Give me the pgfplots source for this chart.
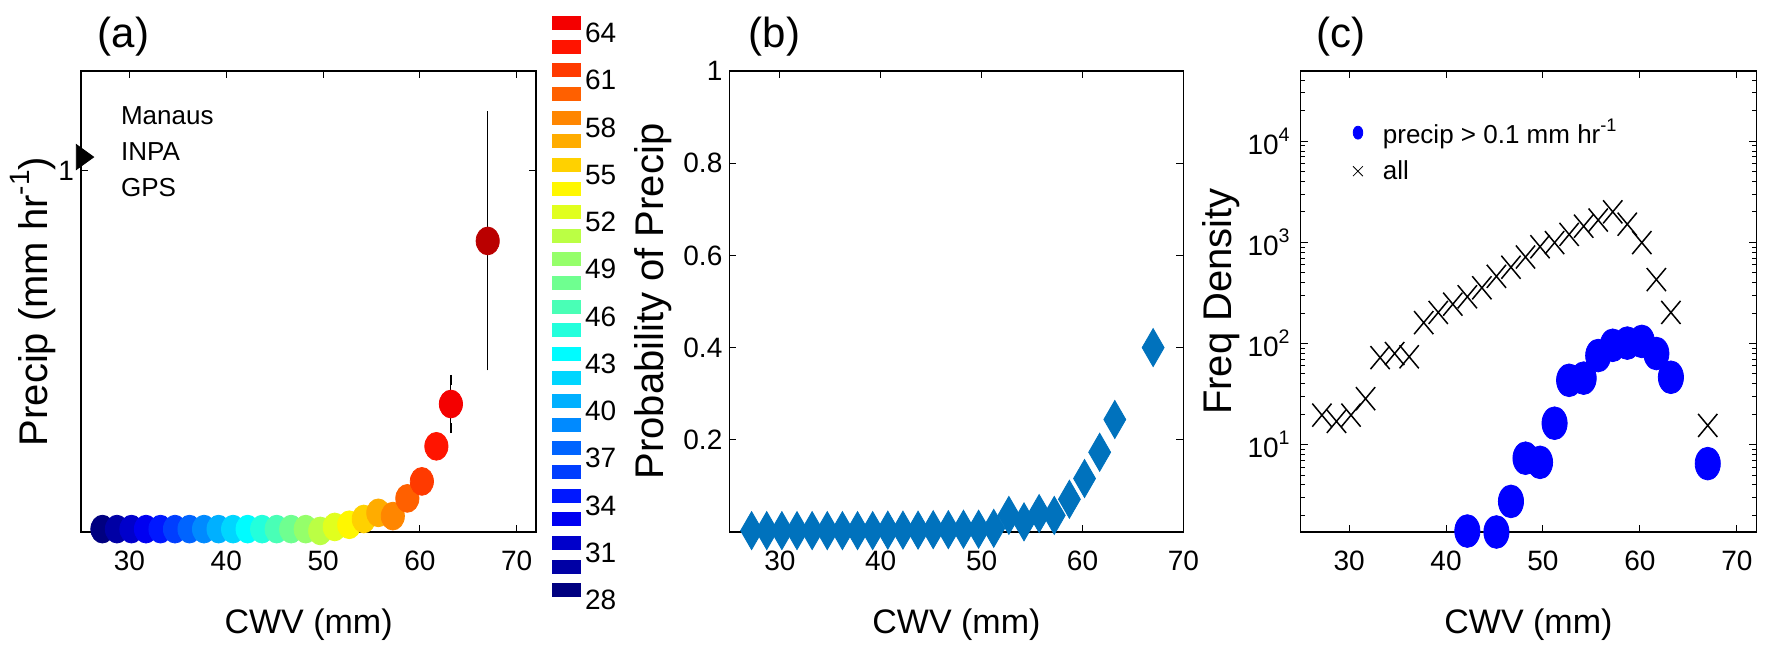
\documentclass[border=0pt]{standalone}
\usepackage{fontspec}
\setmainfont{Liberation Sans}
\usepackage{graphicx}
\usepackage{pgfplots}
\pgfplotsset{compat=1.18}
\newcommand\sups[1]{\raisebox{0.45em}{\scalebox{0.7}{#1}}}
\definecolor{mblue}{RGB}{0,114,189}

\tikzset{ptitle/.style={anchor=west, font=\fontsize{21}{24}\selectfont}}
\pgfplotsset{
  colormap={cwvjet}{rgb=(0,0,0.5) rgb=(0,0,1) rgb=(0,0.5,1) rgb=(0,1,1) rgb=(0.5,1,0.5)
    rgb=(1,1,0) rgb=(1,0.5,0) rgb=(1,0,0) rgb=(0.7,0,0)},
  panel/.style={
    scale only axis, anchor=north west, height=230.5pt,
    clip=false,
    axis line style={line width=0.7pt},
    every tick/.style={black, line width=0.5pt},
    major tick length=3.5pt, minor tick length=2pt,
    tick align=inside,
    /pgf/number format/assume math mode=true,
    ticklabel style={font=\fontsize{14}{16}\selectfont},
    xticklabel style={yshift=-6pt},
    label style={font=\fontsize{17}{20}\selectfont},
    xlabel style={at={(axis description cs:0.5,-0.2)}, anchor=center},
    ylabel style={font=\fontsize{20}{22}\selectfont},
    xtick={30,40,50,60,70},
    xlabel={CWV (mm)},
  },
}

\begin{document}
\begin{tikzpicture}
\useasboundingbox (0,0) rectangle (883.5pt,322pt);

% (a) precip vs CWV, coloured by CWV bin
\begin{axis}[panel, at={(40.55pt,286.5pt)}, width=227.5pt,
  xmin=25, xmax=72, ymin=0, ymax=1.275,
  ytick={1}, yticklabels={1},
  ylabel={Precip (mm hr\sups{-1})},
  ylabel style={at={(axis description cs:-0.105,0.5)}, anchor=center},
  colormap name=cwvjet, point meta min=27.2, point meta max=67.5]
\addplot[black, only marks, mark=none, forget plot,
  error bars/.cd, y dir=both, y explicit,
  error bar style={black, line width=0.5pt},
  error mark=-,
  error mark options={black, mark size=2.4pt, line width=0.6pt}]
  coordinates {(63.2,0.354) +- (0,0.067) (67.0,0.805) +- (0,0.345)};
\addplot[scatter, only marks, mark=*, mark size=5.8pt, point meta=x,
  scatter/use mapped color={draw=mapped color, fill=mapped color},
  mark options={yscale=1.2}] coordinates {
  (27.2,0.008) (28.7,0.008) (30.2,0.008) (31.7,0.008) (33.2,0.008)
  (34.7,0.008) (36.2,0.008) (37.7,0.008) (39.2,0.008) (40.7,0.008)
  (42.2,0.008) (43.7,0.008) (45.2,0.008) (46.7,0.008) (48.2,0.008)
  (49.7,0.003) (51.2,0.014) (52.7,0.020) (54.2,0.036) (55.7,0.053)
  (57.2,0.044) (58.7,0.093) (60.2,0.140) (61.7,0.237) (63.2,0.354)
  (67.0,0.805)};
\addplot[only marks, mark=triangle*, mark size=5.8pt, black,
  mark options={rotate=-90, xscale=1.25}] coordinates {(25.1,1.037)};
\node[anchor=north west, align=left, inner sep=0pt, font=\fontsize{13}{18}\selectfont]
  at (axis description cs:0.087,0.924) {Manaus\\INPA\\GPS};
\node[ptitle] at (axis description cs:0.021,1.074) {(a)};
\end{axis}

% colour key of the CWV bins
\begin{axis}[at={(276pt,314.15pt)}, anchor=north west, scale only axis,
  width=14pt, height=292.95pt, clip=false,
  xmin=0, xmax=1, ymin=27.9, ymax=65.1,
  axis line style={draw=none}, xtick=\empty,
  ytick={28,31,...,64}, yticklabel pos=right, major tick length=0pt,
  /pgf/number format/assume math mode=true,
  yticklabel style={font=\fontsize{14}{16}\selectfont, xshift=-1pt},
  colormap name=cwvjet, point meta min=27.2, point meta max=67.5]
\addplot[scatter, only marks, mark=square*, mark size=3.25pt, point meta=explicit,
  scatter/use mapped color={draw=mapped color, fill=mapped color},
  mark options={xscale=2.15}] coordinates {
  (0.5,28.63) [27.2] (0.5,30.13) [28.7] (0.5,31.63) [30.2] (0.5,33.13) [31.7]
  (0.5,34.63) [33.2] (0.5,36.13) [34.7] (0.5,37.63) [36.2] (0.5,39.13) [37.7]
  (0.5,40.63) [39.2] (0.5,42.13) [40.7] (0.5,43.63) [42.2] (0.5,45.13) [43.7]
  (0.5,46.63) [45.2] (0.5,48.13) [46.7] (0.5,49.63) [48.2] (0.5,51.13) [49.7]
  (0.5,52.63) [51.2] (0.5,54.13) [52.7] (0.5,55.63) [54.2] (0.5,57.13) [55.7]
  (0.5,58.63) [57.2] (0.5,60.13) [58.7] (0.5,61.63) [60.2] (0.5,63.13) [61.7]
  (0.5,64.63) [63.2]};
\end{axis}

% (b) probability of precip
\begin{axis}[panel, at={(364.7pt,286.5pt)}, width=227pt,
  xmin=25, xmax=70, ymin=0, ymax=1,
  ytick={0.2,0.4,0.6,0.8,1},
  ylabel={Probability of Precip},
  ylabel style={at={(axis description cs:-0.167,0.5)}, anchor=center}]
\addplot[only marks, mark=diamond*, mark size=9.5pt, color=mblue,
  mark options={xscale=0.77}] coordinates {
  (27.2,0.003) (28.7,0.003) (30.2,0.003) (31.7,0.003) (33.2,0.003)
  (34.7,0.003) (36.2,0.003) (37.7,0.003) (39.2,0.003) (40.7,0.004)
  (42.2,0.004) (43.7,0.004) (45.2,0.005) (46.7,0.005) (48.2,0.006)
  (49.7,0.006) (51.2,0.008) (52.7,0.036) (54.2,0.022) (55.7,0.040)
  (57.2,0.036) (58.7,0.071) (60.2,0.116) (61.7,0.173) (63.2,0.244)
  (67.0,0.400)};
\node[ptitle] at (axis description cs:0.027,1.074) {(b)};
\end{axis}

% (c) frequency density
\begin{axis}[panel, at={(650.3pt,286.5pt)}, width=227.8pt,
  xmin=25, xmax=72, ymode=log, ymin=1.37, ymax=49500,
  ytick={10,100,1000,10000},
  yticklabels={10\sups{1},10\sups{2},10\sups{3},10\sups{4}},
  minor ytick={2,3,4,5,6,7,8,9,20,30,40,50,60,70,80,90,200,300,400,500,600,700,800,900,
    2000,3000,4000,5000,6000,7000,8000,9000,20000,30000,40000},
  yticklabel style={xshift=-2pt},
  ylabel={Freq Density},
  ylabel style={at={(axis description cs:-0.175,0.5)}, anchor=center},
  legend style={draw=none, fill=none, at={(axis description cs:0.101,0.914)},
    anchor=north west, font=\fontsize{13}{15}\selectfont, row sep=3pt,
    /tikz/every odd column/.append style={column sep=8pt}},
  legend cell align=left]
\addlegendimage{only marks, mark=*, blue, mark size=2.4pt, mark options={yscale=1.35}}
\addlegendentry{precip > 0.1 mm hr\sups{-1}}
\addlegendimage{only marks, mark=x, black, mark size=3.5pt}
\addlegendentry{all}
\addplot[only marks, mark=x, black, mark size=6.8pt, line width=0.75pt,
  mark options={yscale=1.2}, forget plot]
  coordinates {
  (27.2,19.6) (28.7,17.0) (30.2,19.6) (31.7,28.5) (33.2,72.6)
  (34.7,79.7) (36.2,74.0) (37.7,161) (39.2,203) (40.7,245)
  (42.2,290) (43.7,356) (45.2,462) (46.7,568) (48.2,717)
  (49.7,906) (51.2,995) (52.7,1199) (54.2,1446) (55.7,1663)
  (57.2,2005) (58.7,1514) (60.2,995) (61.7,429) (63.2,203)
  (67.0,15.5)};
\addplot[only marks, mark=*, blue, mark size=6.3pt, mark options={yscale=1.3}, forget plot]
  coordinates {
  (42.2,1.40) (45.2,1.37) (46.7,2.75) (48.2,7.35) (49.7,6.69)
  (51.2,16.3) (52.7,43.3) (54.2,45.5) (55.7,76.1) (57.2,96.1)
  (58.7,101) (60.2,105) (61.7,79.7) (63.2,46.4) (67.0,6.5)};
\node[ptitle] at (axis description cs:0.019,1.074) {(c)};
\end{axis}
\end{tikzpicture}
\end{document}
